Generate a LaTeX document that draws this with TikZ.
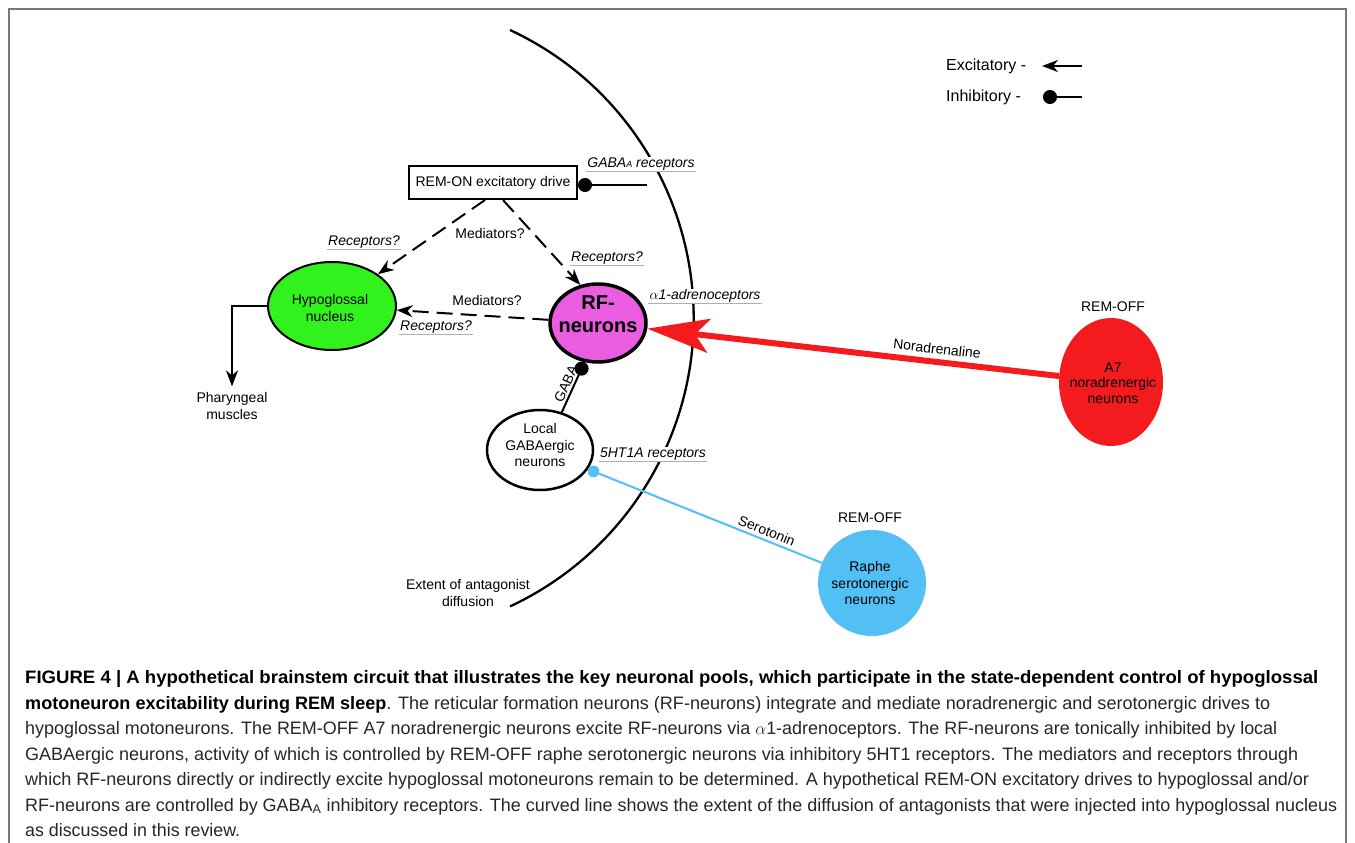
\documentclass[tikz,border=0pt]{standalone}
\usepackage{fontspec}
\setmainfont{Liberation Sans}
\usepackage{graphicx}
\usetikzlibrary{arrows.meta,shapes.geometric}
\definecolor{hypgreen}{RGB}{50,242,30}
\definecolor{rfmag}{RGB}{234,92,224}
\definecolor{a7red}{RGB}{244,27,30}
\definecolor{raphblue}{RGB}{82,192,245}
\definecolor{capgray}{RGB}{40,38,38}
\definecolor{framegray}{RGB}{120,120,120}
\definecolor{ulgray}{RGB}{175,175,175}
\newcommand{\capln}[2]{\resizebox{#1}{\height}{#2}}
\begin{document}
\begin{tikzpicture}[x=1pt,y=-1pt,
  txt/.style={font=\fontsize{14}{16.5}\selectfont, align=center, inner sep=0pt},
  lg/.style={font=\fontsize{16}{18}\selectfont, inner sep=0pt},
  ilab/.style={font=\fontsize{14}{16}\selectfont\itshape, fill=white, inner xsep=1pt, inner ysep=0.6pt,
    append after command={(\tikzlastnode.south west) edge[draw=ulgray, line width=1pt] (\tikzlastnode.south east)}},
  exc/.style={-{Stealth[length=16pt,width=12pt,inset=5pt]}},
  inh/.style={-{Circle[length=14pt]}},
  dsh/.style={dash pattern=on 16pt off 8pt},
  ln/.style={line width=2pt},
  captxt/.style={inner sep=0pt, anchor=base west, text=capgray, font=\fontsize{18}{20}\selectfont},
]
\useasboundingbox (0,0) rectangle (1355,843);
\fill[white] (0,0) rectangle (1355,843);
% frame
\draw[framegray, line width=1.5pt] (9,843) -- (9,9) -- (1346,9) -- (1346,843);

% legend
\node[lg, anchor=west] (exl) at (946,66) {Excitatory -};
\coordinate (exa) at (1082,66);
\coordinate (exb) at (1042,66);
\draw[ln, exc] (exa) -- (exb);
\node[lg, anchor=west] (inl) at (946,97) {Inhibitory -};
\coordinate (ina) at (1082,97);
\coordinate (inb) at (1043,97);
\draw[ln, inh] (ina) -- (inb);

% curved extent line
\coordinate (ctop) at (510,30);
\draw[line width=2.3pt] (ctop) arc[start angle=65, end angle=-65, radius=318pt];

% nodes
\node[draw, line width=2pt, minimum width=168pt, minimum height=33pt, inner sep=0pt,
  font=\fontsize{14}{16}\selectfont] (box) at (493,182.5) {REM-ON excitatory drive};

\node[ellipse, draw, line width=2pt, fill=hypgreen, minimum width=128pt, minimum height=88pt, inner sep=0pt] (hyp) at (332,306) {};
\node[txt] (hypt) at (330,308) {Hypoglossal\\nucleus};

\node[ellipse, draw, line width=3.5pt, fill=rfmag, minimum width=96pt, minimum height=78pt, inner sep=0pt] (rf) at (598,323) {};
\node[font=\fontsize{20}{23}\selectfont\bfseries, align=center, inner sep=0pt] (rft) at (598,314) {RF-\\neurons};

\node[ellipse, draw, line width=2.5pt, fill=white, minimum width=106pt, minimum height=80pt, inner sep=0pt] (local) at (540,450) {};
\node[txt] (localt) at (540,445) {Local\\GABAergic\\neurons};

\node[ellipse, fill=a7red, minimum width=104pt, minimum height=128pt, inner sep=0pt] (a7) at (1111,382) {};
\node[txt, font=\fontsize{14}{15.5}\selectfont] (a7t) at (1113,383) {A7\\noradrenergic\\neurons};
\node[txt] (a7off) at (1113,307) {REM-OFF};

\node[ellipse, fill=raphblue, minimum width=108pt, minimum height=106pt, inner sep=0pt] (raphe) at (872,583) {};
\node[txt] (rapht) at (870,583) {Raphe\\serotonergic\\neurons};
\node[txt] (raphoff) at (870,518) {REM-OFF};

\node[txt] (phar) at (232,406) {Pharyngeal\\muscles};
\node[txt] (extent) at (468,593) {Extent of antagonist\\diffusion};

% connectors
\coordinate (gend) at (647,185);
\draw[ln, inh] (gend) -- ([yshift=-2.5pt]box.east);
\node[ilab] (gabaAl) at (641,164) {GABA{\fontsize{9}{9}\selectfont A} receptors};

\draw[ln, dsh, exc] ([xshift=-8pt]box.south) -- (hyp.north east);
\draw[ln, dsh, exc] ([xshift=10pt]box.south) -- (rf.115);
\node[txt] (med1) at (490,233) {Mediators?};
\node[ilab] (rec1) at (364,242) {Receptors?};
\node[ilab] (rec2) at (607,258) {Receptors?};

\draw[ln, dsh, exc] (rf) -- (hyp);
\node[txt] (med2) at (487,300) {Mediators?};
\node[ilab] (rec3) at (436,327) {Receptors?};

\draw[ln, exc] (hyp.west) -| ([yshift=6pt]phar.north);

\node[ilab] (alab) at (705,296) {$\alpha$1-adrenoceptors};

\draw[a7red, line width=6pt, -{Stealth[length=62pt,width=34pt,inset=14pt]}] (a7) -- (rf)
  node[pos=0.3, sloped, above=5pt, txt, text=black] (nor) {Noradrenaline};

\draw[ln, inh] (local.60) -- (rf.251) node[midway, sloped, above=2pt, txt] (gabal) {GABA};

\draw[raphblue, line width=2pt, -{Circle[length=12pt]}] (raphe) -- (local)
  node[pos=0.25, sloped, above=3pt, txt, text=black] (sero) {Serotonin};
\node[ilab] (ht) at (653,454) {5HT1A receptors};

% caption
\node[captxt] (c1) at (25,683.5) {\capln{1293pt}{\bfseries\color{black}FIGURE 4 | A hypothetical brainstem circuit that illustrates the key neuronal pools, which participate in the state-dependent control of hypoglossal}};
\node[captxt] (c2) at (25,709) {\capln{1245pt}{{\bfseries\color{black}motoneuron excitability during REM sleep}. The reticular formation neurons (RF-neurons) integrate and mediate noradrenergic and serotonergic drives to}};
\node[captxt] (c3) at (25,734.5) {\capln{1252pt}{hypoglossal motoneurons. The REM-OFF A7 noradrenergic neurons excite RF-neurons via $\alpha$1-adrenoceptors. The RF-neurons are tonically inhibited by local}};
\node[captxt] (c4) at (25,760) {\capln{1273pt}{GABAergic neurons, activity of which is controlled by REM-OFF raphe serotonergic neurons via inhibitory 5HT1 receptors. The mediators and receptors through}};
\node[captxt] (c5) at (25,785.5) {\capln{1284pt}{which RF-neurons directly or indirectly excite hypoglossal motoneurons remain to be determined. A hypothetical REM-ON excitatory drives to hypoglossal and/or}};
\node[captxt] (c6) at (25,811) {\capln{1312pt}{RF-neurons are controlled by GABA\textsubscript{A} inhibitory receptors. The curved line shows the extent of the diffusion of antagonists that were injected into hypoglossal nucleus}};
\node[captxt] (c7) at (25,836.5) {\capln{215pt}{as discussed in this review.}};
\end{tikzpicture}
\end{document}
